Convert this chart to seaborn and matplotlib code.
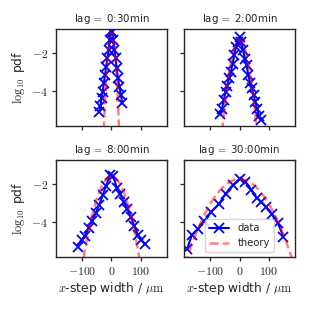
import numpy as np
import pandas as pd
import matplotlib
matplotlib.use("Agg")
import matplotlib.pyplot as plt
from matplotlib.ticker import FuncFormatter
import seaborn as sns

# ---- data ----
titles = [r"lag$\;=\;$0:30min", r"lag$\;=\;$2:00min", r"lag$\;=\;$8:00min", r"lag$\;=\;$30:00min"]

x_0030 = [-42, -38, -34, -30, -26, -22, -18, -14, -10, -6, -2, 2, 6, 10, 14, 18, 22, 27, 32, 37]
y_0030 = [-5.09, -4.82, -4.39, -4.04, -3.6, -3.16, -2.72, -2.28, -1.84, -1.32, -0.84,
          -0.88, -1.32, -1.84, -2.28, -2.8, -3.33, -3.77, -4.2, -4.65]

x_0200 = [-66, -60, -54, -48, -42, -36, -30, -24, -18, -12, -6, 0,
          6, 12, 18, 24, 30, 36, 42, 48, 54, 60, 66, 72]
y_0200 = [-5.22, -4.93, -4.5, -4.08, -3.72, -3.33, -3.0, -2.6, -2.1, -1.7, -1.43, -1.18,
          -1.45, -1.86, -2.3, -2.66, -3.16, -3.6, -3.86, -4.21, -4.6, -4.95, -5.3, -5.55]

x_0800 = [-114, -102, -90, -78, -66, -54, -42, -30, -18, -6,
          6, 18, 30, 42, 54, 66, 78, 90, 102, 114]
y_0800 = [-5.3, -4.95, -4.72, -4.3, -3.95, -3.55, -3.1, -2.6, -2.1, -1.55,
          -1.6, -2.2, -2.55, -2.95, -3.3, -3.75, -4.2, -4.68, -4.95, -5.15]

x_3000 = [-180, -163, -143, -120, -98, -70, -48, -22, 2, 20, 40, 58, 75, 90, 110, 131, 150]
y_3000 = [-5.45, -4.68, -4.38, -3.95, -3.5, -3.05, -2.52, -2.08, -1.72, -1.88, -2.32,
          -2.72, -2.95, -3.2, -3.6, -4.05, -4.78]

# theory curves
tx_0030 = [-28, -24, -20, -16, -12, -8, -4, 0, 4, 8, 12, 16, 20, 24, 28]
ty_0030 = [-6.79, -5.24, -3.93, -2.86, -2.02, -1.43, -1.07, -0.95,
           -1.07, -1.43, -2.02, -2.86, -3.93, -5.24, -6.79]

tx_0200 = [-64, -56, -48, -40, -32, -24, -16, -8, 0, 8, 16, 24, 32, 40, 48, 56, 64]
ty_0200 = [-6.84, -5.54, -4.42, -3.47, -2.69, -2.08, -1.65, -1.39, -1.3,
           -1.39, -1.65, -2.08, -2.69, -3.47, -4.42, -5.54, -6.84]

tx_0800 = [-110, -100, -90, -80, -70, -60, -50, -40, -30, -20, -10, 0,
           10, 20, 30, 40, 50, 60, 70, 80, 90, 100, 110]
ty_0800 = [-7.30, -6.31, -5.42, -4.61, -3.91, -3.30, -2.78, -2.35, -2.02, -1.79, -1.65, -1.6,
           -1.65, -1.79, -2.02, -2.35, -2.78, -3.30, -3.91, -4.61, -5.42, -6.31, -7.30]

tx_3000 = [-200, -180, -160, -140, -120, -100, -80, -60, -40, -20, 0,
           20, 40, 60, 80, 100, 120, 140, 160, 180, 200]
ty_3000 = [-6.93, -5.94, -5.06, -4.29, -3.61, -3.04, -2.58, -2.22, -1.96, -1.80, -1.75,
           -1.80, -1.96, -2.22, -2.58, -3.04, -3.61, -4.29, -5.06, -5.94, -6.93]

data_x = [x_0030, x_0200, x_0800, x_3000]
data_y = [y_0030, y_0200, y_0800, y_3000]
theo_x = [tx_0030, tx_0200, tx_0800, tx_3000]
theo_y = [ty_0030, ty_0200, ty_0800, ty_3000]

xticks = [-100, 0, 100]
yticks = [-4, -2]

# ---- style ----
sns.set_style("ticks")
plt.rcParams["font.family"] = ["DejaVu Sans"]
plt.rcParams["mathtext.fontset"] = "cm"
plt.rcParams["xtick.major.size"] = 3
plt.rcParams["ytick.major.size"] = 3
plt.rcParams["axes.edgecolor"] = "0.15"

fig, axes = plt.subplots(2, 2, sharex=True, sharey=True, figsize=(3.09, 3.09), dpi=100)
fig.subplots_adjust(left=0.181, right=0.955, top=0.906, bottom=0.168,
                    wspace=0.153, hspace=0.35)

fmt = FuncFormatter(lambda v, p: f"${v:g}$")

for i, ax in enumerate(axes.flat):
    df = pd.DataFrame({"x": data_x[i], "y": data_y[i]})
    tf = pd.DataFrame({"x": theo_x[i], "y": theo_y[i]})
    sns.lineplot(data=df, x="x", y="y", ax=ax, color="blue", marker="x",
                 markersize=6.5, markeredgewidth=1.3, markeredgecolor="blue",
                 lw=1.5, label="data", legend=False)
    sns.lineplot(data=tf, x="x", y="y", ax=ax, color="red", alpha=0.5,
                 linestyle="--", lw=1.8, label="theory", legend=False)
    ax.set_title(titles[i], fontsize=7.4, pad=5)
    ax.set_xlim(-190, 190)
    ax.set_ylim(-5.85, -0.75)
    ax.set_xticks(xticks)
    ax.set_yticks(yticks)
    ax.xaxis.set_major_formatter(fmt)
    ax.yaxis.set_major_formatter(fmt)
    ax.tick_params(labelsize=8.5, width=0.9, pad=2.5)
    for s in ax.spines.values():
        s.set_linewidth(1.0)
    ax.set_xlabel(r"$x$-step width / $\mu\mathrm{m}$" if i >= 2 else "", fontsize=8.8, labelpad=1.5)
    ax.set_ylabel(r"$\log_{10}$ pdf" if i % 2 == 0 else "", fontsize=8.8, labelpad=3)

axes[1, 1].legend(loc="lower center", fontsize=7.2)

fig.savefig("out.png", dpi=100)
